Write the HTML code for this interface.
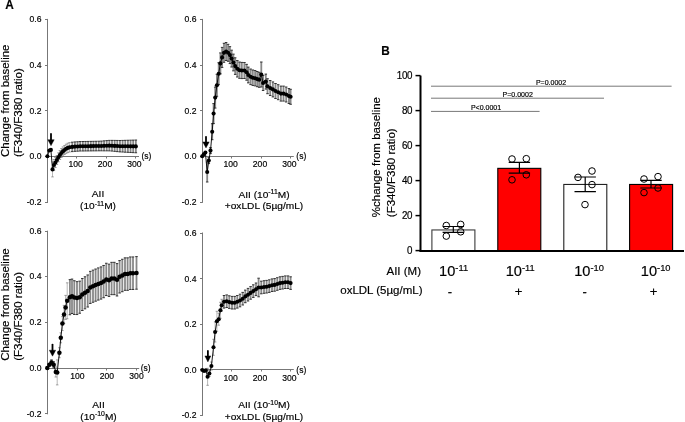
<!DOCTYPE html>
<html><head><meta charset="utf-8"><style>
html,body{margin:0;padding:0;background:#fff;}
svg{display:block;will-change:transform;}
text{font-family:"Liberation Sans", sans-serif;stroke:#000;stroke-width:0.18px;}
</style></head><body>
<svg width="685" height="422" viewBox="0 0 685 422">

<g font-family='"Liberation Sans", sans-serif'>
<text x="5.3" y="9" font-size="12.5" text-anchor="start" font-weight="bold" fill="#000" transform="translate(5.3 9) scale(0.95 1) translate(-5.3 -9)">A</text>
<text x="381.2" y="55.5" font-size="12.8" text-anchor="start" font-weight="bold" fill="#000" transform="translate(381.2 55.5) scale(0.92 1) translate(-381.2 -55.5)">B</text>
<line x1="47.5" y1="18.9" x2="47.5" y2="203.0" stroke="#777" stroke-width="1"/>
<line x1="45.0" y1="19.5" x2="47.5" y2="19.5" stroke="#777" stroke-width="1"/>
<text transform="translate(41.5 22.299999999999997) scale(1 1.1)" font-size="8.6" text-anchor="end" font-weight="normal" fill="#000" >0.6</text>
<line x1="45.0" y1="65.5" x2="47.5" y2="65.5" stroke="#777" stroke-width="1"/>
<text transform="translate(41.5 68.4) scale(1 1.1)" font-size="8.6" text-anchor="end" font-weight="normal" fill="#000" >0.4</text>
<line x1="45.0" y1="110.5" x2="47.5" y2="110.5" stroke="#777" stroke-width="1"/>
<text transform="translate(41.5 113.7) scale(1 1.1)" font-size="8.6" text-anchor="end" font-weight="normal" fill="#000" >0.2</text>
<line x1="45.0" y1="156.5" x2="47.5" y2="156.5" stroke="#777" stroke-width="1"/>
<text transform="translate(41.5 159.20000000000002) scale(1 1.1)" font-size="8.6" text-anchor="end" font-weight="normal" fill="#000" >0.0</text>
<line x1="45.0" y1="202.5" x2="47.5" y2="202.5" stroke="#777" stroke-width="1"/>
<text transform="translate(41.5 205.4) scale(1 1.1)" font-size="8.6" text-anchor="end" font-weight="normal" fill="#000" >-0.2</text>
<line x1="47.5" y1="156.5" x2="139" y2="156.5" stroke="#777" stroke-width="1"/>
<line x1="76.5" y1="156.5" x2="76.5" y2="158.5" stroke="#777" stroke-width="1"/>
<text transform="translate(75.60000000000001 167.0) scale(1 1.1)" font-size="8.6" text-anchor="middle" font-weight="normal" fill="#000" >100</text>
<line x1="106.5" y1="156.5" x2="106.5" y2="158.5" stroke="#777" stroke-width="1"/>
<text transform="translate(105.0 167.0) scale(1 1.1)" font-size="8.6" text-anchor="middle" font-weight="normal" fill="#000" >200</text>
<line x1="135.5" y1="156.5" x2="135.5" y2="158.5" stroke="#777" stroke-width="1"/>
<text transform="translate(134.39999999999998 167.0) scale(1 1.1)" font-size="8.6" text-anchor="middle" font-weight="normal" fill="#000" >300</text>
<text x="141.5" y="159.3" font-size="8.5" text-anchor="start" font-weight="normal" fill="#000" >(s)</text>
<path d="M72.25 142.19V151.61M74.90 141.90V151.34M77.55 141.73V151.18M80.20 141.56V151.03M82.85 141.51V151.00M85.50 141.47V150.97M88.15 141.42V150.94M90.80 141.37V150.91M93.45 141.32V150.88M96.10 141.27V150.85M98.75 141.22V150.81M101.40 141.08V150.81M104.05 140.85V150.83M106.70 140.62V150.84M109.35 140.39V150.86M112.00 140.36V151.08M114.65 140.40V151.36M117.30 140.44V151.63M119.95 140.49V151.90M122.60 140.42V152.04M125.25 140.34V152.19M127.90 140.26V152.33M130.55 140.18V152.47M133.20 140.11V152.61M135.85 140.03V152.75" stroke="#888" stroke-width="1.8" fill="none"/>
<path d="M49.30 149.90V151.10M50.90 148.90V150.90M52.50 161.90V176.90M53.90 159.50V170.50M55.40 157.50V167.50M56.90 155.50V164.50M58.40 152.80V161.80M59.90 150.50V159.50M61.40 148.50V157.50M62.90 146.90V155.90M64.50 145.50V154.50M66.10 144.20V153.40M67.80 143.20V152.60M69.60 142.59V151.99" stroke="#999" stroke-width="0.7" fill="none"/>
<path d="M71.00 142.19h2.5M71.00 151.61h2.5M73.65 141.90h2.5M73.65 151.34h2.5M76.30 141.73h2.5M76.30 151.18h2.5M78.95 141.56h2.5M78.95 151.03h2.5M81.60 141.51h2.5M81.60 151.00h2.5M84.25 141.47h2.5M84.25 150.97h2.5M86.90 141.42h2.5M86.90 150.94h2.5M89.55 141.37h2.5M89.55 150.91h2.5M92.20 141.32h2.5M92.20 150.88h2.5M94.85 141.27h2.5M94.85 150.85h2.5M97.50 141.22h2.5M97.50 150.81h2.5M100.15 141.08h2.5M100.15 150.81h2.5M102.80 140.85h2.5M102.80 150.83h2.5M105.45 140.62h2.5M105.45 150.84h2.5M108.10 140.39h2.5M108.10 150.86h2.5M110.75 140.36h2.5M110.75 151.08h2.5M113.40 140.40h2.5M113.40 151.36h2.5M116.05 140.44h2.5M116.05 151.63h2.5M118.70 140.49h2.5M118.70 151.90h2.5M121.35 140.42h2.5M121.35 152.04h2.5M124.00 140.34h2.5M124.00 152.19h2.5M126.65 140.26h2.5M126.65 152.33h2.5M129.30 140.18h2.5M129.30 152.47h2.5M131.95 140.11h2.5M131.95 152.61h2.5M134.60 140.03h2.5M134.60 152.75h2.5" stroke="#222" stroke-width="0.9" fill="none"/>
<path d="M48.05 149.90h2.5M48.05 151.10h2.5M49.65 148.90h2.5M49.65 150.90h2.5M51.25 161.90h2.5M51.25 176.90h2.5M52.65 159.50h2.5M52.65 170.50h2.5M54.15 157.50h2.5M54.15 167.50h2.5M55.65 155.50h2.5M55.65 164.50h2.5M57.15 152.80h2.5M57.15 161.80h2.5M58.65 150.50h2.5M58.65 159.50h2.5M60.15 148.50h2.5M60.15 157.50h2.5M61.65 146.90h2.5M61.65 155.90h2.5M63.25 145.50h2.5M63.25 154.50h2.5M64.85 144.20h2.5M64.85 153.40h2.5M66.55 143.20h2.5M66.55 152.60h2.5M68.35 142.59h2.5M68.35 151.99h2.5" stroke="#666" stroke-width="0.6" fill="none"/>
<path d="M47.40 156.20L49.30 150.50L50.90 149.90L52.50 169.40L53.90 165.00L55.40 162.50L56.90 160.00L58.40 157.30L59.90 155.00L61.40 153.00L62.90 151.40L64.50 150.00L66.10 148.80L67.80 147.90L69.60 147.29L72.25 146.90L74.90 146.62L77.55 146.45L80.20 146.30L82.85 146.26L85.50 146.22L88.15 146.18L90.80 146.14L93.45 146.10L96.10 146.06L98.75 146.02L101.40 145.94L104.05 145.84L106.70 145.73L109.35 145.63L112.00 145.72L114.65 145.88L117.30 146.04L119.95 146.20L122.60 146.23L125.25 146.26L127.90 146.29L130.55 146.33L133.20 146.36L135.85 146.39" stroke="#000" stroke-width="0.9" fill="none"/>
<circle cx="47.40" cy="156.20" r="2.05" fill="#000"/>
<circle cx="49.30" cy="150.50" r="2.05" fill="#000"/>
<circle cx="50.90" cy="149.90" r="2.05" fill="#000"/>
<circle cx="52.50" cy="169.40" r="2.05" fill="#000"/>
<circle cx="53.90" cy="165.00" r="2.05" fill="#000"/>
<circle cx="55.40" cy="162.50" r="2.05" fill="#000"/>
<circle cx="56.90" cy="160.00" r="2.05" fill="#000"/>
<circle cx="58.40" cy="157.30" r="2.05" fill="#000"/>
<circle cx="59.90" cy="155.00" r="2.05" fill="#000"/>
<circle cx="61.40" cy="153.00" r="2.05" fill="#000"/>
<circle cx="62.90" cy="151.40" r="2.05" fill="#000"/>
<circle cx="64.50" cy="150.00" r="2.05" fill="#000"/>
<circle cx="66.10" cy="148.80" r="2.05" fill="#000"/>
<circle cx="67.80" cy="147.90" r="2.05" fill="#000"/>
<circle cx="69.60" cy="147.29" r="2.05" fill="#000"/>
<circle cx="72.25" cy="146.90" r="2.05" fill="#000"/>
<circle cx="74.90" cy="146.62" r="2.05" fill="#000"/>
<circle cx="77.55" cy="146.45" r="2.05" fill="#000"/>
<circle cx="80.20" cy="146.30" r="2.05" fill="#000"/>
<circle cx="82.85" cy="146.26" r="2.05" fill="#000"/>
<circle cx="85.50" cy="146.22" r="2.05" fill="#000"/>
<circle cx="88.15" cy="146.18" r="2.05" fill="#000"/>
<circle cx="90.80" cy="146.14" r="2.05" fill="#000"/>
<circle cx="93.45" cy="146.10" r="2.05" fill="#000"/>
<circle cx="96.10" cy="146.06" r="2.05" fill="#000"/>
<circle cx="98.75" cy="146.02" r="2.05" fill="#000"/>
<circle cx="101.40" cy="145.94" r="2.05" fill="#000"/>
<circle cx="104.05" cy="145.84" r="2.05" fill="#000"/>
<circle cx="106.70" cy="145.73" r="2.05" fill="#000"/>
<circle cx="109.35" cy="145.63" r="2.05" fill="#000"/>
<circle cx="112.00" cy="145.72" r="2.05" fill="#000"/>
<circle cx="114.65" cy="145.88" r="2.05" fill="#000"/>
<circle cx="117.30" cy="146.04" r="2.05" fill="#000"/>
<circle cx="119.95" cy="146.20" r="2.05" fill="#000"/>
<circle cx="122.60" cy="146.23" r="2.05" fill="#000"/>
<circle cx="125.25" cy="146.26" r="2.05" fill="#000"/>
<circle cx="127.90" cy="146.29" r="2.05" fill="#000"/>
<circle cx="130.55" cy="146.33" r="2.05" fill="#000"/>
<circle cx="133.20" cy="146.36" r="2.05" fill="#000"/>
<circle cx="135.85" cy="146.39" r="2.05" fill="#000"/>
<text transform="translate(98 197.3) scale(1 0.95)" font-size="10.15" text-anchor="middle" font-weight="normal" fill="#000" >AII</text>
<text transform="translate(98 209.2) scale(1 0.95)" font-size="10.15" text-anchor="middle" font-weight="normal" fill="#000" >(10<tspan dy="-3.7" font-size="6.9">-11</tspan><tspan dy="3.7">M)</tspan></text>
<line x1="202.5" y1="18.9" x2="202.5" y2="202.8" stroke="#777" stroke-width="1"/>
<line x1="200.0" y1="19.5" x2="202.5" y2="19.5" stroke="#777" stroke-width="1"/>
<text transform="translate(196.5 22.299999999999997) scale(1 1.1)" font-size="8.6" text-anchor="end" font-weight="normal" fill="#000" >0.6</text>
<line x1="200.0" y1="65.5" x2="202.5" y2="65.5" stroke="#777" stroke-width="1"/>
<text transform="translate(196.5 68.4) scale(1 1.1)" font-size="8.6" text-anchor="end" font-weight="normal" fill="#000" >0.4</text>
<line x1="200.0" y1="110.5" x2="202.5" y2="110.5" stroke="#777" stroke-width="1"/>
<text transform="translate(196.5 113.7) scale(1 1.1)" font-size="8.6" text-anchor="end" font-weight="normal" fill="#000" >0.2</text>
<line x1="200.0" y1="156.5" x2="202.5" y2="156.5" stroke="#777" stroke-width="1"/>
<text transform="translate(196.5 159.20000000000002) scale(1 1.1)" font-size="8.6" text-anchor="end" font-weight="normal" fill="#000" >0.0</text>
<line x1="200.0" y1="202.5" x2="202.5" y2="202.5" stroke="#777" stroke-width="1"/>
<text transform="translate(196.5 205.20000000000002) scale(1 1.1)" font-size="8.6" text-anchor="end" font-weight="normal" fill="#000" >-0.2</text>
<line x1="202.5" y1="156.5" x2="293.8" y2="156.5" stroke="#777" stroke-width="1"/>
<line x1="231.5" y1="156.5" x2="231.5" y2="158.5" stroke="#777" stroke-width="1"/>
<text transform="translate(230.6 167.0) scale(1 1.1)" font-size="8.6" text-anchor="middle" font-weight="normal" fill="#000" >100</text>
<line x1="261.5" y1="156.5" x2="261.5" y2="158.5" stroke="#777" stroke-width="1"/>
<text transform="translate(260.0 167.0) scale(1 1.1)" font-size="8.6" text-anchor="middle" font-weight="normal" fill="#000" >200</text>
<line x1="290.5" y1="156.5" x2="290.5" y2="158.5" stroke="#777" stroke-width="1"/>
<text transform="translate(289.4 167.0) scale(1 1.1)" font-size="8.6" text-anchor="middle" font-weight="normal" fill="#000" >300</text>
<text x="296.3" y="159.3" font-size="8.5" text-anchor="start" font-weight="normal" fill="#000" >(s)</text>
<path d="M203.80 153.70V154.70M205.40 151.50V153.50M207.20 162.00V182.00M208.80 157.60V163.60M210.50 147.60V153.60M212.20 123.70V139.70M213.60 103.60V123.60M215.20 87.10V108.10M216.90 74.30V96.30M218.70 62.70V84.70M220.40 52.90V73.90M222.10 47.40V67.40M224.00 43.30V62.30M226.10 42.50V60.50M228.10 44.30V61.30M229.90 46.63V63.57M231.60 50.18V67.02M233.40 54.14V70.86M235.20 57.80V74.40M237.30 60.57V77.03M239.50 62.04V78.36M241.80 62.41V78.59M244.40 62.50V78.50M246.60 64.37V80.23M248.30 67.12V82.88M250.60 69.00V84.60M252.80 69.97V85.43M255.10 70.54V85.86M257.20 71.51V86.69M259.20 72.27V87.33M261.30 62.00V87.00M263.10 75.50V90.50M265.80 74.10V89.10M267.50 78.70V93.70M270.20 80.50V95.50M272.90 81.90V96.90M275.50 83.50V98.50M278.20 84.70V99.70M280.90 86.10V101.10M283.50 86.10V101.10M286.20 87.00V102.00M288.90 88.50V103.50M290.60 89.30V104.30" stroke="#888" stroke-width="1.8" fill="none"/>
<path d="" stroke="#999" stroke-width="0.7" fill="none"/>
<path d="M202.55 153.70h2.5M202.55 154.70h2.5M204.15 151.50h2.5M204.15 153.50h2.5M205.95 162.00h2.5M205.95 182.00h2.5M207.55 157.60h2.5M207.55 163.60h2.5M209.25 147.60h2.5M209.25 153.60h2.5M210.95 123.70h2.5M210.95 139.70h2.5M212.35 103.60h2.5M212.35 123.60h2.5M213.95 87.10h2.5M213.95 108.10h2.5M215.65 74.30h2.5M215.65 96.30h2.5M217.45 62.70h2.5M217.45 84.70h2.5M219.15 52.90h2.5M219.15 73.90h2.5M220.85 47.40h2.5M220.85 67.40h2.5M222.75 43.30h2.5M222.75 62.30h2.5M224.85 42.50h2.5M224.85 60.50h2.5M226.85 44.30h2.5M226.85 61.30h2.5M228.65 46.63h2.5M228.65 63.57h2.5M230.35 50.18h2.5M230.35 67.02h2.5M232.15 54.14h2.5M232.15 70.86h2.5M233.95 57.80h2.5M233.95 74.40h2.5M236.05 60.57h2.5M236.05 77.03h2.5M238.25 62.04h2.5M238.25 78.36h2.5M240.55 62.41h2.5M240.55 78.59h2.5M243.15 62.50h2.5M243.15 78.50h2.5M245.35 64.37h2.5M245.35 80.23h2.5M247.05 67.12h2.5M247.05 82.88h2.5M249.35 69.00h2.5M249.35 84.60h2.5M251.55 69.97h2.5M251.55 85.43h2.5M253.85 70.54h2.5M253.85 85.86h2.5M255.95 71.51h2.5M255.95 86.69h2.5M257.95 72.27h2.5M257.95 87.33h2.5M260.05 62.00h2.5M260.05 87.00h2.5M261.85 75.50h2.5M261.85 90.50h2.5M264.55 74.10h2.5M264.55 89.10h2.5M266.25 78.70h2.5M266.25 93.70h2.5M268.95 80.50h2.5M268.95 95.50h2.5M271.65 81.90h2.5M271.65 96.90h2.5M274.25 83.50h2.5M274.25 98.50h2.5M276.95 84.70h2.5M276.95 99.70h2.5M279.65 86.10h2.5M279.65 101.10h2.5M282.25 86.10h2.5M282.25 101.10h2.5M284.95 87.00h2.5M284.95 102.00h2.5M287.65 88.50h2.5M287.65 103.50h2.5M289.35 89.30h2.5M289.35 104.30h2.5" stroke="#222" stroke-width="0.9" fill="none"/>
<path d="" stroke="#666" stroke-width="0.6" fill="none"/>
<path d="M202.20 156.30L203.80 154.20L205.40 152.50L207.20 172.00L208.80 160.60L210.50 150.60L212.20 131.70L213.60 113.60L215.20 97.60L216.90 85.30L218.70 73.70L220.40 63.40L222.10 57.40L224.00 52.80L226.10 51.50L228.10 52.80L229.90 55.10L231.60 58.60L233.40 62.50L235.20 66.10L237.30 68.80L239.50 70.20L241.80 70.50L244.40 70.50L246.60 72.30L248.30 75.00L250.60 76.80L252.80 77.70L255.10 78.20L257.20 79.10L259.20 79.80L261.30 74.50L263.10 83.00L265.80 81.60L267.50 86.20L270.20 88.00L272.90 89.40L275.50 91.00L278.20 92.20L280.90 93.60L283.50 93.60L286.20 94.50L288.90 96.00L290.60 96.80" stroke="#000" stroke-width="0.9" fill="none"/>
<circle cx="202.20" cy="156.30" r="2.05" fill="#000"/>
<circle cx="203.80" cy="154.20" r="2.05" fill="#000"/>
<circle cx="205.40" cy="152.50" r="2.05" fill="#000"/>
<circle cx="207.20" cy="172.00" r="2.05" fill="#000"/>
<circle cx="208.80" cy="160.60" r="2.05" fill="#000"/>
<circle cx="210.50" cy="150.60" r="2.05" fill="#000"/>
<circle cx="212.20" cy="131.70" r="2.05" fill="#000"/>
<circle cx="213.60" cy="113.60" r="2.05" fill="#000"/>
<circle cx="215.20" cy="97.60" r="2.05" fill="#000"/>
<circle cx="216.90" cy="85.30" r="2.05" fill="#000"/>
<circle cx="218.70" cy="73.70" r="2.05" fill="#000"/>
<circle cx="220.40" cy="63.40" r="2.05" fill="#000"/>
<circle cx="222.10" cy="57.40" r="2.05" fill="#000"/>
<circle cx="224.00" cy="52.80" r="2.05" fill="#000"/>
<circle cx="226.10" cy="51.50" r="2.05" fill="#000"/>
<circle cx="228.10" cy="52.80" r="2.05" fill="#000"/>
<circle cx="229.90" cy="55.10" r="2.05" fill="#000"/>
<circle cx="231.60" cy="58.60" r="2.05" fill="#000"/>
<circle cx="233.40" cy="62.50" r="2.05" fill="#000"/>
<circle cx="235.20" cy="66.10" r="2.05" fill="#000"/>
<circle cx="237.30" cy="68.80" r="2.05" fill="#000"/>
<circle cx="239.50" cy="70.20" r="2.05" fill="#000"/>
<circle cx="241.80" cy="70.50" r="2.05" fill="#000"/>
<circle cx="244.40" cy="70.50" r="2.05" fill="#000"/>
<circle cx="246.60" cy="72.30" r="2.05" fill="#000"/>
<circle cx="248.30" cy="75.00" r="2.05" fill="#000"/>
<circle cx="250.60" cy="76.80" r="2.05" fill="#000"/>
<circle cx="252.80" cy="77.70" r="2.05" fill="#000"/>
<circle cx="255.10" cy="78.20" r="2.05" fill="#000"/>
<circle cx="257.20" cy="79.10" r="2.05" fill="#000"/>
<circle cx="259.20" cy="79.80" r="2.05" fill="#000"/>
<circle cx="261.30" cy="74.50" r="2.05" fill="#000"/>
<circle cx="263.10" cy="83.00" r="2.05" fill="#000"/>
<circle cx="265.80" cy="81.60" r="2.05" fill="#000"/>
<circle cx="267.50" cy="86.20" r="2.05" fill="#000"/>
<circle cx="270.20" cy="88.00" r="2.05" fill="#000"/>
<circle cx="272.90" cy="89.40" r="2.05" fill="#000"/>
<circle cx="275.50" cy="91.00" r="2.05" fill="#000"/>
<circle cx="278.20" cy="92.20" r="2.05" fill="#000"/>
<circle cx="280.90" cy="93.60" r="2.05" fill="#000"/>
<circle cx="283.50" cy="93.60" r="2.05" fill="#000"/>
<circle cx="286.20" cy="94.50" r="2.05" fill="#000"/>
<circle cx="288.90" cy="96.00" r="2.05" fill="#000"/>
<circle cx="290.60" cy="96.80" r="2.05" fill="#000"/>
<text transform="translate(264 197.5) scale(1 0.95)" font-size="10.15" text-anchor="middle" font-weight="normal" fill="#000" >AII (10<tspan dy="-3.7" font-size="6.9">-11</tspan><tspan dy="3.7">M)</tspan></text>
<text transform="translate(264 209.2) scale(1 0.95)" font-size="10.15" text-anchor="middle" font-weight="normal" fill="#000" >+oxLDL (5µg/mL)</text>
<line x1="47.5" y1="230.7" x2="47.5" y2="414.3" stroke="#777" stroke-width="1"/>
<line x1="45.0" y1="231.5" x2="47.5" y2="231.5" stroke="#777" stroke-width="1"/>
<text transform="translate(41.5 234.1) scale(1 1.1)" font-size="8.6" text-anchor="end" font-weight="normal" fill="#000" >0.6</text>
<line x1="45.0" y1="276.5" x2="47.5" y2="276.5" stroke="#777" stroke-width="1"/>
<text transform="translate(41.5 279.4) scale(1 1.1)" font-size="8.6" text-anchor="end" font-weight="normal" fill="#000" >0.4</text>
<line x1="45.0" y1="322.5" x2="47.5" y2="322.5" stroke="#777" stroke-width="1"/>
<text transform="translate(41.5 324.9) scale(1 1.1)" font-size="8.6" text-anchor="end" font-weight="normal" fill="#000" >0.2</text>
<line x1="45.0" y1="368.5" x2="47.5" y2="368.5" stroke="#777" stroke-width="1"/>
<text transform="translate(41.5 371.0) scale(1 1.1)" font-size="8.6" text-anchor="end" font-weight="normal" fill="#000" >0.0</text>
<line x1="45.0" y1="413.5" x2="47.5" y2="413.5" stroke="#777" stroke-width="1"/>
<text transform="translate(41.5 416.7) scale(1 1.1)" font-size="8.6" text-anchor="end" font-weight="normal" fill="#000" >-0.2</text>
<line x1="47.5" y1="368.5" x2="139.2" y2="368.5" stroke="#777" stroke-width="1"/>
<line x1="77.5" y1="368.5" x2="77.5" y2="370.5" stroke="#777" stroke-width="1"/>
<text transform="translate(77.3 378.8) scale(1 1.1)" font-size="8.6" text-anchor="middle" font-weight="normal" fill="#000" >100</text>
<line x1="106.5" y1="368.5" x2="106.5" y2="370.5" stroke="#777" stroke-width="1"/>
<text transform="translate(106.89999999999999 378.8) scale(1 1.1)" font-size="8.6" text-anchor="middle" font-weight="normal" fill="#000" >200</text>
<line x1="136.5" y1="368.5" x2="136.5" y2="370.5" stroke="#777" stroke-width="1"/>
<text transform="translate(136.5 378.8) scale(1 1.1)" font-size="8.6" text-anchor="middle" font-weight="normal" fill="#000" >300</text>
<text x="140.7" y="371.1" font-size="8.5" text-anchor="start" font-weight="normal" fill="#000" >(s)</text>
<path d="M49.40 364.00V365.60M51.50 359.90V364.90M53.70 361.80V367.80M69.90 279.65V314.75M72.00 279.07V313.53M74.30 280.72V314.48M77.00 281.64V314.56M79.70 281.15V313.25M82.30 278.49V310.51M85.00 276.77V308.83M87.70 274.96V307.04M90.30 271.35V303.45M93.00 270.13V302.27M95.60 269.02V301.18M98.30 267.90V300.10M101.00 266.89V299.11M103.60 265.48V297.72M106.30 263.26V295.54M109.00 264.15V296.45M111.60 262.33V294.67M114.30 262.32V294.68M117.00 263.61V295.99M119.60 260.59V293.01M122.30 259.28V291.72M125.00 257.86V290.34M127.60 257.85V290.35M130.30 256.94V289.46M133.00 256.92V289.48M136.50 256.60V289.20" stroke="#888" stroke-width="1.8" fill="none"/>
<path d="M55.80 367.00V377.00M57.20 359.90V384.90M59.40 347.70V357.70M60.80 332.80V342.80M62.40 316.60V330.60M64.00 305.40V323.40M65.60 295.40V319.40M67.20 282.83V318.77" stroke="#999" stroke-width="0.7" fill="none"/>
<path d="M48.15 364.00h2.5M48.15 365.60h2.5M50.25 359.90h2.5M50.25 364.90h2.5M52.45 361.80h2.5M52.45 367.80h2.5M68.65 279.65h2.5M68.65 314.75h2.5M70.75 279.07h2.5M70.75 313.53h2.5M73.05 280.72h2.5M73.05 314.48h2.5M75.75 281.64h2.5M75.75 314.56h2.5M78.45 281.15h2.5M78.45 313.25h2.5M81.05 278.49h2.5M81.05 310.51h2.5M83.75 276.77h2.5M83.75 308.83h2.5M86.45 274.96h2.5M86.45 307.04h2.5M89.05 271.35h2.5M89.05 303.45h2.5M91.75 270.13h2.5M91.75 302.27h2.5M94.35 269.02h2.5M94.35 301.18h2.5M97.05 267.90h2.5M97.05 300.10h2.5M99.75 266.89h2.5M99.75 299.11h2.5M102.35 265.48h2.5M102.35 297.72h2.5M105.05 263.26h2.5M105.05 295.54h2.5M107.75 264.15h2.5M107.75 296.45h2.5M110.35 262.33h2.5M110.35 294.67h2.5M113.05 262.32h2.5M113.05 294.68h2.5M115.75 263.61h2.5M115.75 295.99h2.5M118.35 260.59h2.5M118.35 293.01h2.5M121.05 259.28h2.5M121.05 291.72h2.5M123.75 257.86h2.5M123.75 290.34h2.5M126.35 257.85h2.5M126.35 290.35h2.5M129.05 256.94h2.5M129.05 289.46h2.5M131.75 256.92h2.5M131.75 289.48h2.5M135.25 256.60h2.5M135.25 289.20h2.5" stroke="#222" stroke-width="0.9" fill="none"/>
<path d="M54.55 367.00h2.5M54.55 377.00h2.5M55.95 359.90h2.5M55.95 384.90h2.5M58.15 347.70h2.5M58.15 357.70h2.5M59.55 332.80h2.5M59.55 342.80h2.5M61.15 316.60h2.5M61.15 330.60h2.5M62.75 305.40h2.5M62.75 323.40h2.5M64.35 295.40h2.5M64.35 319.40h2.5M65.95 282.83h2.5M65.95 318.77h2.5" stroke="#666" stroke-width="0.6" fill="none"/>
<path d="M47.30 368.10L49.40 364.80L51.50 362.40L53.70 364.80L55.80 372.00L57.20 372.40L59.40 352.70L60.80 337.80L62.40 323.60L64.00 314.40L65.60 307.40L67.20 300.80L69.90 297.20L72.00 296.30L74.30 297.60L77.00 298.10L79.70 297.20L82.30 294.50L85.00 292.80L87.70 291.00L90.30 287.40L93.00 286.20L95.60 285.10L98.30 284.00L101.00 283.00L103.60 281.60L106.30 279.40L109.00 280.30L111.60 278.50L114.30 278.50L117.00 279.80L119.60 276.80L122.30 275.50L125.00 274.10L127.60 274.10L130.30 273.20L133.00 273.20L136.50 272.90" stroke="#000" stroke-width="0.9" fill="none"/>
<circle cx="47.30" cy="368.10" r="2.25" fill="#000"/>
<circle cx="49.40" cy="364.80" r="2.25" fill="#000"/>
<circle cx="51.50" cy="362.40" r="2.25" fill="#000"/>
<circle cx="53.70" cy="364.80" r="2.25" fill="#000"/>
<circle cx="55.80" cy="372.00" r="2.25" fill="#000"/>
<circle cx="57.20" cy="372.40" r="2.25" fill="#000"/>
<circle cx="59.40" cy="352.70" r="2.25" fill="#000"/>
<circle cx="60.80" cy="337.80" r="2.25" fill="#000"/>
<circle cx="62.40" cy="323.60" r="2.25" fill="#000"/>
<circle cx="64.00" cy="314.40" r="2.25" fill="#000"/>
<circle cx="65.60" cy="307.40" r="2.25" fill="#000"/>
<circle cx="67.20" cy="300.80" r="2.25" fill="#000"/>
<circle cx="69.90" cy="297.20" r="2.25" fill="#000"/>
<circle cx="72.00" cy="296.30" r="2.25" fill="#000"/>
<circle cx="74.30" cy="297.60" r="2.25" fill="#000"/>
<circle cx="77.00" cy="298.10" r="2.25" fill="#000"/>
<circle cx="79.70" cy="297.20" r="2.25" fill="#000"/>
<circle cx="82.30" cy="294.50" r="2.25" fill="#000"/>
<circle cx="85.00" cy="292.80" r="2.25" fill="#000"/>
<circle cx="87.70" cy="291.00" r="2.25" fill="#000"/>
<circle cx="90.30" cy="287.40" r="2.25" fill="#000"/>
<circle cx="93.00" cy="286.20" r="2.25" fill="#000"/>
<circle cx="95.60" cy="285.10" r="2.25" fill="#000"/>
<circle cx="98.30" cy="284.00" r="2.25" fill="#000"/>
<circle cx="101.00" cy="283.00" r="2.25" fill="#000"/>
<circle cx="103.60" cy="281.60" r="2.25" fill="#000"/>
<circle cx="106.30" cy="279.40" r="2.25" fill="#000"/>
<circle cx="109.00" cy="280.30" r="2.25" fill="#000"/>
<circle cx="111.60" cy="278.50" r="2.25" fill="#000"/>
<circle cx="114.30" cy="278.50" r="2.25" fill="#000"/>
<circle cx="117.00" cy="279.80" r="2.25" fill="#000"/>
<circle cx="119.60" cy="276.80" r="2.25" fill="#000"/>
<circle cx="122.30" cy="275.50" r="2.25" fill="#000"/>
<circle cx="125.00" cy="274.10" r="2.25" fill="#000"/>
<circle cx="127.60" cy="274.10" r="2.25" fill="#000"/>
<circle cx="130.30" cy="273.20" r="2.25" fill="#000"/>
<circle cx="133.00" cy="273.20" r="2.25" fill="#000"/>
<circle cx="136.50" cy="272.90" r="2.25" fill="#000"/>
<text transform="translate(98.5 407.8) scale(1 0.95)" font-size="10.15" text-anchor="middle" font-weight="normal" fill="#000" >AII</text>
<text transform="translate(98.5 419.6) scale(1 0.95)" font-size="10.15" text-anchor="middle" font-weight="normal" fill="#000" >(10<tspan dy="-3.7" font-size="6.9">-10</tspan><tspan dy="3.7">M)</tspan></text>
<line x1="202.5" y1="232.5" x2="202.5" y2="415.9" stroke="#777" stroke-width="1"/>
<line x1="200.0" y1="233.5" x2="202.5" y2="233.5" stroke="#777" stroke-width="1"/>
<text transform="translate(196.5 235.9) scale(1 1.1)" font-size="8.6" text-anchor="end" font-weight="normal" fill="#000" >0.6</text>
<line x1="200.0" y1="278.5" x2="202.5" y2="278.5" stroke="#777" stroke-width="1"/>
<text transform="translate(196.5 281.5) scale(1 1.1)" font-size="8.6" text-anchor="end" font-weight="normal" fill="#000" >0.4</text>
<line x1="200.0" y1="324.5" x2="202.5" y2="324.5" stroke="#777" stroke-width="1"/>
<text transform="translate(196.5 327.29999999999995) scale(1 1.1)" font-size="8.6" text-anchor="end" font-weight="normal" fill="#000" >0.2</text>
<line x1="200.0" y1="369.5" x2="202.5" y2="369.5" stroke="#777" stroke-width="1"/>
<text transform="translate(196.5 372.7) scale(1 1.1)" font-size="8.6" text-anchor="end" font-weight="normal" fill="#000" >0.0</text>
<line x1="200.0" y1="415.5" x2="202.5" y2="415.5" stroke="#777" stroke-width="1"/>
<text transform="translate(196.5 418.29999999999995) scale(1 1.1)" font-size="8.6" text-anchor="end" font-weight="normal" fill="#000" >-0.2</text>
<line x1="202.5" y1="369.5" x2="293.8" y2="369.5" stroke="#777" stroke-width="1"/>
<line x1="231.5" y1="369.5" x2="231.5" y2="371.5" stroke="#777" stroke-width="1"/>
<text transform="translate(230.6 380.5) scale(1 1.1)" font-size="8.6" text-anchor="middle" font-weight="normal" fill="#000" >100</text>
<line x1="261.5" y1="369.5" x2="261.5" y2="371.5" stroke="#777" stroke-width="1"/>
<text transform="translate(260.0 380.5) scale(1 1.1)" font-size="8.6" text-anchor="middle" font-weight="normal" fill="#000" >200</text>
<line x1="290.5" y1="369.5" x2="290.5" y2="371.5" stroke="#777" stroke-width="1"/>
<text transform="translate(289.4 380.5) scale(1 1.1)" font-size="8.6" text-anchor="middle" font-weight="normal" fill="#000" >300</text>
<text x="296.3" y="372.8" font-size="8.5" text-anchor="start" font-weight="normal" fill="#000" >(s)</text>
<path d="M224.00 295.50V308.10M226.70 294.90V307.50M229.30 295.80V308.40M232.00 296.40V309.00M234.70 296.40V309.00M237.30 295.50V308.10M240.00 294.20V306.80M242.70 292.40V305.00M245.30 290.10V302.70M248.00 288.40V301.00M250.60 286.60V299.20M253.30 284.80V297.40M256.00 283.00V295.60M258.60 278.20V296.80M261.30 281.20V293.80M264.00 280.70V293.30M266.60 280.40V293.00M269.30 279.80V292.40M272.00 278.90V291.50M274.60 278.60V291.20M277.30 277.70V290.30M280.00 276.80V289.40M282.60 276.40V289.00M285.30 275.90V288.50M288.00 275.90V288.50M290.60 276.80V289.40" stroke="#888" stroke-width="1.8" fill="none"/>
<path d="M204.10 370.50V371.50M205.80 369.40V371.40M207.60 368.30V385.30M209.40 370.50V376.50M211.40 362.00V370.00M213.50 339.30V355.30M215.10 322.00V342.00M216.90 311.30V331.30M218.70 313.20V325.20M220.40 302.30V318.30M221.70 299.30V311.30" stroke="#999" stroke-width="0.7" fill="none"/>
<path d="M222.75 295.50h2.5M222.75 308.10h2.5M225.45 294.90h2.5M225.45 307.50h2.5M228.05 295.80h2.5M228.05 308.40h2.5M230.75 296.40h2.5M230.75 309.00h2.5M233.45 296.40h2.5M233.45 309.00h2.5M236.05 295.50h2.5M236.05 308.10h2.5M238.75 294.20h2.5M238.75 306.80h2.5M241.45 292.40h2.5M241.45 305.00h2.5M244.05 290.10h2.5M244.05 302.70h2.5M246.75 288.40h2.5M246.75 301.00h2.5M249.35 286.60h2.5M249.35 299.20h2.5M252.05 284.80h2.5M252.05 297.40h2.5M254.75 283.00h2.5M254.75 295.60h2.5M257.35 278.20h2.5M257.35 296.80h2.5M260.05 281.20h2.5M260.05 293.80h2.5M262.75 280.70h2.5M262.75 293.30h2.5M265.35 280.40h2.5M265.35 293.00h2.5M268.05 279.80h2.5M268.05 292.40h2.5M270.75 278.90h2.5M270.75 291.50h2.5M273.35 278.60h2.5M273.35 291.20h2.5M276.05 277.70h2.5M276.05 290.30h2.5M278.75 276.80h2.5M278.75 289.40h2.5M281.35 276.40h2.5M281.35 289.00h2.5M284.05 275.90h2.5M284.05 288.50h2.5M286.75 275.90h2.5M286.75 288.50h2.5M289.35 276.80h2.5M289.35 289.40h2.5" stroke="#222" stroke-width="0.9" fill="none"/>
<path d="M202.85 370.50h2.5M202.85 371.50h2.5M204.55 369.40h2.5M204.55 371.40h2.5M206.35 368.30h2.5M206.35 385.30h2.5M208.15 370.50h2.5M208.15 376.50h2.5M210.15 362.00h2.5M210.15 370.00h2.5M212.25 339.30h2.5M212.25 355.30h2.5M213.85 322.00h2.5M213.85 342.00h2.5M215.65 311.30h2.5M215.65 331.30h2.5M217.45 313.20h2.5M217.45 325.20h2.5M219.15 302.30h2.5M219.15 318.30h2.5M220.45 299.30h2.5M220.45 311.30h2.5" stroke="#666" stroke-width="0.6" fill="none"/>
<path d="M202.30 370.00L204.10 371.00L205.80 370.40L207.60 376.80L209.40 373.50L211.40 366.00L213.50 347.30L215.10 332.00L216.90 321.30L218.70 319.20L220.40 310.30L221.70 305.30L224.00 301.80L226.70 301.20L229.30 302.10L232.00 302.70L234.70 302.70L237.30 301.80L240.00 300.50L242.70 298.70L245.30 296.40L248.00 294.70L250.60 292.90L253.30 291.10L256.00 289.30L258.60 287.50L261.30 287.50L264.00 287.00L266.60 286.70L269.30 286.10L272.00 285.20L274.60 284.90L277.30 284.00L280.00 283.10L282.60 282.70L285.30 282.20L288.00 282.20L290.60 283.10" stroke="#000" stroke-width="0.9" fill="none"/>
<circle cx="202.30" cy="370.00" r="2.05" fill="#000"/>
<circle cx="204.10" cy="371.00" r="2.05" fill="#000"/>
<circle cx="205.80" cy="370.40" r="2.05" fill="#000"/>
<circle cx="207.60" cy="376.80" r="2.05" fill="#000"/>
<circle cx="209.40" cy="373.50" r="2.05" fill="#000"/>
<circle cx="211.40" cy="366.00" r="2.05" fill="#000"/>
<circle cx="213.50" cy="347.30" r="2.05" fill="#000"/>
<circle cx="215.10" cy="332.00" r="2.05" fill="#000"/>
<circle cx="216.90" cy="321.30" r="2.05" fill="#000"/>
<circle cx="218.70" cy="319.20" r="2.05" fill="#000"/>
<circle cx="220.40" cy="310.30" r="2.05" fill="#000"/>
<circle cx="221.70" cy="305.30" r="2.05" fill="#000"/>
<circle cx="224.00" cy="301.80" r="2.05" fill="#000"/>
<circle cx="226.70" cy="301.20" r="2.05" fill="#000"/>
<circle cx="229.30" cy="302.10" r="2.05" fill="#000"/>
<circle cx="232.00" cy="302.70" r="2.05" fill="#000"/>
<circle cx="234.70" cy="302.70" r="2.05" fill="#000"/>
<circle cx="237.30" cy="301.80" r="2.05" fill="#000"/>
<circle cx="240.00" cy="300.50" r="2.05" fill="#000"/>
<circle cx="242.70" cy="298.70" r="2.05" fill="#000"/>
<circle cx="245.30" cy="296.40" r="2.05" fill="#000"/>
<circle cx="248.00" cy="294.70" r="2.05" fill="#000"/>
<circle cx="250.60" cy="292.90" r="2.05" fill="#000"/>
<circle cx="253.30" cy="291.10" r="2.05" fill="#000"/>
<circle cx="256.00" cy="289.30" r="2.05" fill="#000"/>
<circle cx="258.60" cy="287.50" r="2.05" fill="#000"/>
<circle cx="261.30" cy="287.50" r="2.05" fill="#000"/>
<circle cx="264.00" cy="287.00" r="2.05" fill="#000"/>
<circle cx="266.60" cy="286.70" r="2.05" fill="#000"/>
<circle cx="269.30" cy="286.10" r="2.05" fill="#000"/>
<circle cx="272.00" cy="285.20" r="2.05" fill="#000"/>
<circle cx="274.60" cy="284.90" r="2.05" fill="#000"/>
<circle cx="277.30" cy="284.00" r="2.05" fill="#000"/>
<circle cx="280.00" cy="283.10" r="2.05" fill="#000"/>
<circle cx="282.60" cy="282.70" r="2.05" fill="#000"/>
<circle cx="285.30" cy="282.20" r="2.05" fill="#000"/>
<circle cx="288.00" cy="282.20" r="2.05" fill="#000"/>
<circle cx="290.60" cy="283.10" r="2.05" fill="#000"/>
<text transform="translate(264 408.2) scale(1 0.95)" font-size="10.15" text-anchor="middle" font-weight="normal" fill="#000" >AII (10<tspan dy="-3.7" font-size="6.9">-10</tspan><tspan dy="3.7">M)</tspan></text>
<text transform="translate(264 420) scale(1 0.95)" font-size="10.15" text-anchor="middle" font-weight="normal" fill="#000" >+oxLDL (5µg/mL)</text>
<line x1="51.0" y1="133.9" x2="51.0" y2="140.5" stroke="#000" stroke-width="1.8" stroke-linecap="round"/>
<path d="M47.8 139.7L54.2 139.7L51.0 145.7Z" fill="#000" stroke="#000" stroke-width="0.4" stroke-linejoin="round"/>
<line x1="206.0" y1="136.79999999999998" x2="206.0" y2="142.70000000000002" stroke="#000" stroke-width="1.8" stroke-linecap="round"/>
<path d="M202.8 141.9L209.2 141.9L206.0 147.9Z" fill="#000" stroke="#000" stroke-width="0.4" stroke-linejoin="round"/>
<line x1="52.5" y1="344.6" x2="52.5" y2="351.0" stroke="#000" stroke-width="1.8" stroke-linecap="round"/>
<path d="M49.3 350.2L55.7 350.2L52.5 356.2Z" fill="#000" stroke="#000" stroke-width="0.4" stroke-linejoin="round"/>
<line x1="207.9" y1="350.90000000000003" x2="207.9" y2="356.7" stroke="#000" stroke-width="1.8" stroke-linecap="round"/>
<path d="M204.9 355.9L210.9 355.9L207.9 361.9Z" fill="#000" stroke="#000" stroke-width="0.4" stroke-linejoin="round"/>
<text transform="translate(9.1,157) rotate(-90)" font-size="11.5"><tspan x="0" y="0">Change from baseline</tspan><tspan x="0" y="13.2">(F340/F380 ratio)</tspan></text>
<text transform="translate(9.1,360.8) rotate(-90)" font-size="11.5"><tspan x="0" y="0">Change from baseline</tspan><tspan x="0" y="13.2">(F340/F380 ratio)</tspan></text>
<text transform="translate(380.4,217.2) rotate(-90)" font-size="11.5"><tspan x="0" y="0">%change from baseline</tspan><tspan x="0" y="14.3">(F340/F380 ratio)</tspan></text>
<rect x="431.9" y="229.95" width="43" height="20.650000000000006" fill="#fff" stroke="#3a3a3a" stroke-width="1.1"/>
<rect x="497.8" y="168.35" width="43" height="82.25" fill="#ff0000" stroke="#000" stroke-width="1.1"/>
<rect x="563.8" y="184.45" width="43" height="66.15" fill="#fff" stroke="#222" stroke-width="1.1"/>
<rect x="629.6" y="184.45" width="43" height="66.15" fill="#ff0000" stroke="#000" stroke-width="1.1"/>
<path d="M453.3 226.5V232.4M442.6 226.5h21.4M442.6 232.4h21.4" stroke="#000" stroke-width="1.2" fill="none"/>
<path d="M519.4 162.3V173.2M508.7 162.3h21.4M508.7 173.2h21.4" stroke="#000" stroke-width="1.2" fill="none"/>
<path d="M585.2 177V191.6M574.5 177h21.4M574.5 191.6h21.4" stroke="#000" stroke-width="1.2" fill="none"/>
<path d="M651 180.4V188M640.3 180.4h21.4M640.3 188h21.4" stroke="#000" stroke-width="1.2" fill="none"/>
<circle cx="446.3" cy="225.5" r="3.3" fill="none" stroke="#000" stroke-width="1"/>
<circle cx="460.7" cy="224.4" r="3.3" fill="none" stroke="#000" stroke-width="1"/>
<circle cx="460.7" cy="231.8" r="3.3" fill="none" stroke="#000" stroke-width="1"/>
<circle cx="446.3" cy="236.1" r="3.3" fill="none" stroke="#000" stroke-width="1"/>
<circle cx="512" cy="159" r="3.3" fill="none" stroke="#000" stroke-width="1"/>
<circle cx="526.3" cy="158.7" r="3.3" fill="none" stroke="#000" stroke-width="1"/>
<circle cx="526.3" cy="174.8" r="3.3" fill="none" stroke="#000" stroke-width="1"/>
<circle cx="512" cy="179.8" r="3.3" fill="none" stroke="#000" stroke-width="1"/>
<circle cx="578" cy="177.4" r="3.3" fill="none" stroke="#000" stroke-width="1"/>
<circle cx="592" cy="171" r="3.3" fill="none" stroke="#000" stroke-width="1"/>
<circle cx="592" cy="184.6" r="3.3" fill="none" stroke="#000" stroke-width="1"/>
<circle cx="585" cy="204.6" r="3.3" fill="none" stroke="#000" stroke-width="1"/>
<circle cx="644" cy="179" r="3.3" fill="none" stroke="#000" stroke-width="1"/>
<circle cx="658" cy="176.6" r="3.3" fill="none" stroke="#000" stroke-width="1"/>
<circle cx="658" cy="188" r="3.3" fill="none" stroke="#000" stroke-width="1"/>
<circle cx="644" cy="192.6" r="3.3" fill="none" stroke="#000" stroke-width="1"/>
<line x1="420.5" y1="75.6" x2="420.5" y2="251.6" stroke="#000" stroke-width="2"/>
<line x1="415.5" y1="250.6" x2="420.5" y2="250.6" stroke="#000" stroke-width="1.5"/>
<text transform="translate(412.2 254.4) scale(1 1.1)" font-size="9.8" text-anchor="end" font-weight="normal" fill="#000" letter-spacing="-0.3">0</text>
<line x1="415.5" y1="215.6" x2="420.5" y2="215.6" stroke="#000" stroke-width="1.5"/>
<text transform="translate(412.2 219.4) scale(1 1.1)" font-size="9.8" text-anchor="end" font-weight="normal" fill="#000" letter-spacing="-0.3">20</text>
<line x1="415.5" y1="180.6" x2="420.5" y2="180.6" stroke="#000" stroke-width="1.5"/>
<text transform="translate(412.2 184.4) scale(1 1.1)" font-size="9.8" text-anchor="end" font-weight="normal" fill="#000" letter-spacing="-0.3">40</text>
<line x1="415.5" y1="145.6" x2="420.5" y2="145.6" stroke="#000" stroke-width="1.5"/>
<text transform="translate(412.2 149.4) scale(1 1.1)" font-size="9.8" text-anchor="end" font-weight="normal" fill="#000" letter-spacing="-0.3">60</text>
<line x1="415.5" y1="110.6" x2="420.5" y2="110.6" stroke="#000" stroke-width="1.5"/>
<text transform="translate(412.2 114.39999999999999) scale(1 1.1)" font-size="9.8" text-anchor="end" font-weight="normal" fill="#000" letter-spacing="-0.3">80</text>
<line x1="415.5" y1="75.6" x2="420.5" y2="75.6" stroke="#000" stroke-width="1.5"/>
<text transform="translate(412.2 79.39999999999999) scale(1 1.1)" font-size="9.8" text-anchor="end" font-weight="normal" fill="#000" letter-spacing="-0.3">100</text>
<line x1="419.5" y1="251.1" x2="684" y2="251.1" stroke="#000" stroke-width="2"/>
<line x1="431" y1="86.2" x2="671.6" y2="86.2" stroke="#777" stroke-width="1"/>
<text x="551" y="84.6" font-size="7" text-anchor="middle" font-weight="normal" fill="#000" >P=0.0002</text>
<line x1="431" y1="98.2" x2="604" y2="98.2" stroke="#777" stroke-width="1"/>
<text x="517.7" y="96.6" font-size="7" text-anchor="middle" font-weight="normal" fill="#000" >P=0.0002</text>
<line x1="431" y1="111.4" x2="539.6" y2="111.4" stroke="#777" stroke-width="1"/>
<text x="486" y="109.8" font-size="7" text-anchor="middle" font-weight="normal" fill="#000" >P&lt;0.0001</text>
<text x="421" y="275.1" font-size="11.5" text-anchor="end" font-weight="normal" fill="#000" >AII (M)</text>
<text x="422.5" y="293.6" font-size="11.5" text-anchor="end" font-weight="normal" fill="#000" >oxLDL (5µg/mL)</text>
<text x="453.6" y="276" font-size="14.6" text-anchor="middle">10<tspan dy="-5.2" font-size="9.3">-11</tspan></text>
<text x="520.2" y="276" font-size="14.6" text-anchor="middle">10<tspan dy="-5.2" font-size="9.3">-11</tspan></text>
<text x="589" y="276" font-size="14.6" text-anchor="middle">10<tspan dy="-5.2" font-size="9.3">-10</tspan></text>
<text x="655.7" y="276" font-size="14.6" text-anchor="middle">10<tspan dy="-5.2" font-size="9.3">-10</tspan></text>
<text x="449.8" y="296" font-size="13" text-anchor="middle" font-weight="normal" fill="#000" >-</text>
<text x="518.5" y="296" font-size="13" text-anchor="middle" font-weight="normal" fill="#000" >+</text>
<text x="584.7" y="296" font-size="13" text-anchor="middle" font-weight="normal" fill="#000" >-</text>
<text x="653.5" y="296" font-size="13" text-anchor="middle" font-weight="normal" fill="#000" >+</text>
</g>
</svg>
</body></html>
